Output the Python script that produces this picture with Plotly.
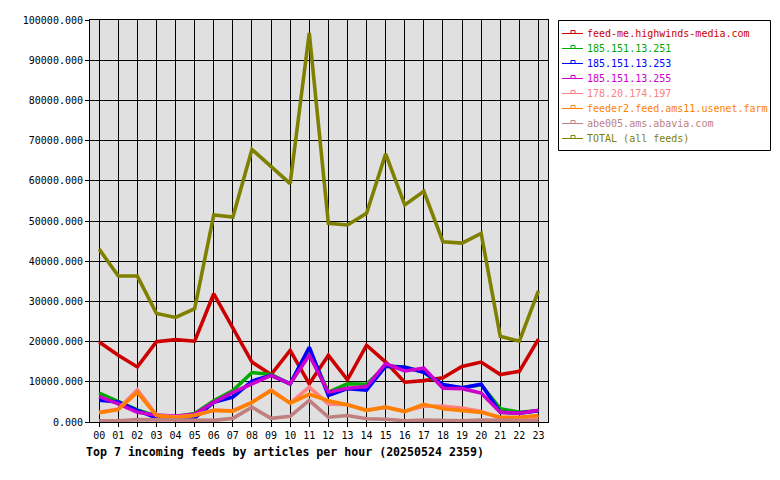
import plotly.graph_objects as go

hours = ["%02d" % h for h in range(24)]
series_names = ["feed-me.highwinds-media.com", "185.151.13.251", "185.151.13.253",
                "185.151.13.255", "178.20.174.197", "feeder2.feed.ams11.usenet.farm",
                "abe005.ams.abavia.com", "TOTAL (all feeds)"]
series_colors = ["#cc0000", "#00aa00", "#0000ff", "#cc00cc", "#ff8080", "#ff8000",
                 "#c08080", "#808000"]

feedme = [19900, 16600, 13700, 20000, 20500, 20100, 31900, 23600, 14900, 11800, 17800, 9500,
          16600, 10500, 19100, 14900, 9900, 10300, 11000, 13800, 14900, 11800, 12600, 20600]
ip251 = [7200, 5100, 3000, 1500, 1300, 2100, 5300, 7800, 12300, 11800, 9500, 18000,
         7400, 9500, 9400, 13900, 13700, 12400, 9100, 8500, 9300, 3300, 2400, 2800]
ip253 = [5400, 5000, 2900, 1000, 800, 1000, 4900, 6200, 10200, 11600, 9500, 18600,
         6600, 8300, 7900, 13900, 13600, 12400, 9300, 8500, 9400, 2400, 2200, 2800]
ip255 = [6300, 4500, 2400, 1700, 1500, 1900, 4900, 7400, 9500, 11600, 9500, 16600,
         7400, 8400, 8800, 14500, 12700, 13400, 8400, 8300, 7200, 2400, 2200, 2900]
ip197 = [2400, 3200, 8000, 1700, 1300, 1700, 2900, 2800, 4900, 8000, 4700, 8700,
         4500, 4300, 2900, 3700, 2700, 3900, 3900, 3500, 2600, 1000, 900, 1100]
feeder2 = [2300, 3100, 7400, 1600, 1100, 1600, 2900, 2700, 4900, 7800, 4700, 6900,
           5300, 4300, 2900, 3700, 2600, 4400, 3300, 2900, 2400, 1200, 1200, 1600]
abe005 = [300, 300, 600, 500, 400, 400, 400, 900, 3700, 900, 1400, 5400,
          1200, 1600, 800, 700, 300, 500, 300, 300, 500, 400, 300, 300]
total = [43000, 36300, 36300, 27000, 26000, 28200, 51500, 51000, 67800, 63500, 59300, 96800,
         49400, 49000, 51900, 66700, 54000, 57400, 44800, 44500, 46900, 21300, 20100, 32600]

all_series = [feedme, ip251, ip253, ip255, ip197, feeder2, abe005, total]

MONO = "DejaVu Sans Mono"

# plot area in pixels
L, R, T, B = 90, 548, 20, 422
W, H = 780, 480


def px(x):
    return (x - L) / (R - L)


def py(y):
    return (B - y) / (B - T)


fig = go.Figure()
xs = list(range(24))
for name, color, vals in zip(series_names, series_colors, all_series):
    fig.add_trace(go.Scatter(x=xs, y=vals, mode="lines", name=name,
                             line=dict(color=color, width=3.6), showlegend=False))

shapes = []
annotations = []
# custom legend box
shapes.append(dict(type="rect", xref="paper", yref="paper",
                   x0=px(558.5), x1=px(770.5), y0=py(20.5), y1=py(150.5),
                   line=dict(color="black", width=1), fillcolor="white", layer="above"))
row0, step = 33, 15
for i, (name, color) in enumerate(zip(series_names, series_colors)):
    yy = row0 + i * step
    shapes.append(dict(type="line", xref="paper", yref="paper",
                       x0=px(562), x1=px(583), y0=py(yy + 0.5), y1=py(yy + 0.5),
                       line=dict(color=color, width=1), layer="above"))
    shapes.append(dict(type="rect", xref="paper", yref="paper",
                       x0=px(571), x1=px(575), y0=py(yy - 2.5), y1=py(yy + 0.5),
                       line=dict(color=color, width=1), fillcolor="white", layer="above"))
    annotations.append(dict(text=name, xref="paper", yref="paper", x=px(585), y=py(yy),
                            xanchor="left", yanchor="middle", showarrow=False,
                            font=dict(family=MONO, size=10, color=color)))

annotations.append(dict(text="<b>Top 7 incoming feeds by articles per hour (20250524 2359)</b>",
                        xref="paper", yref="paper", x=px(84), y=py(452),
                        xanchor="left", yanchor="middle", showarrow=False,
                        font=dict(family=MONO, size=11.6, color="black")))

fig.update_layout(
    width=W, height=H,
    margin=dict(l=L, r=W - R, t=T, b=H - B, pad=0),
    paper_bgcolor="white", plot_bgcolor="#e0e0e0",
    shapes=shapes, annotations=annotations,
    showlegend=False,
    xaxis=dict(range=[-0.48, 23.5], tickvals=xs, ticktext=hours,
               showgrid=True, gridcolor="black", gridwidth=1,
               showline=True, linecolor="black", linewidth=1, mirror=True,
               ticks="outside", ticklen=4, tickcolor="black",
               tickfont=dict(family=MONO, size=10, color="black"), zeroline=False),
    yaxis=dict(range=[0, 100000], dtick=10000, tick0=0, tickformat=".3f",
               showgrid=True, gridcolor="black", gridwidth=1,
               showline=True, linecolor="black", linewidth=1, mirror=True,
               ticks="outside", ticklen=4, tickcolor="black",
               tickfont=dict(family=MONO, size=10, color="black"), zeroline=False),
)

fig.write_html("out.html")
